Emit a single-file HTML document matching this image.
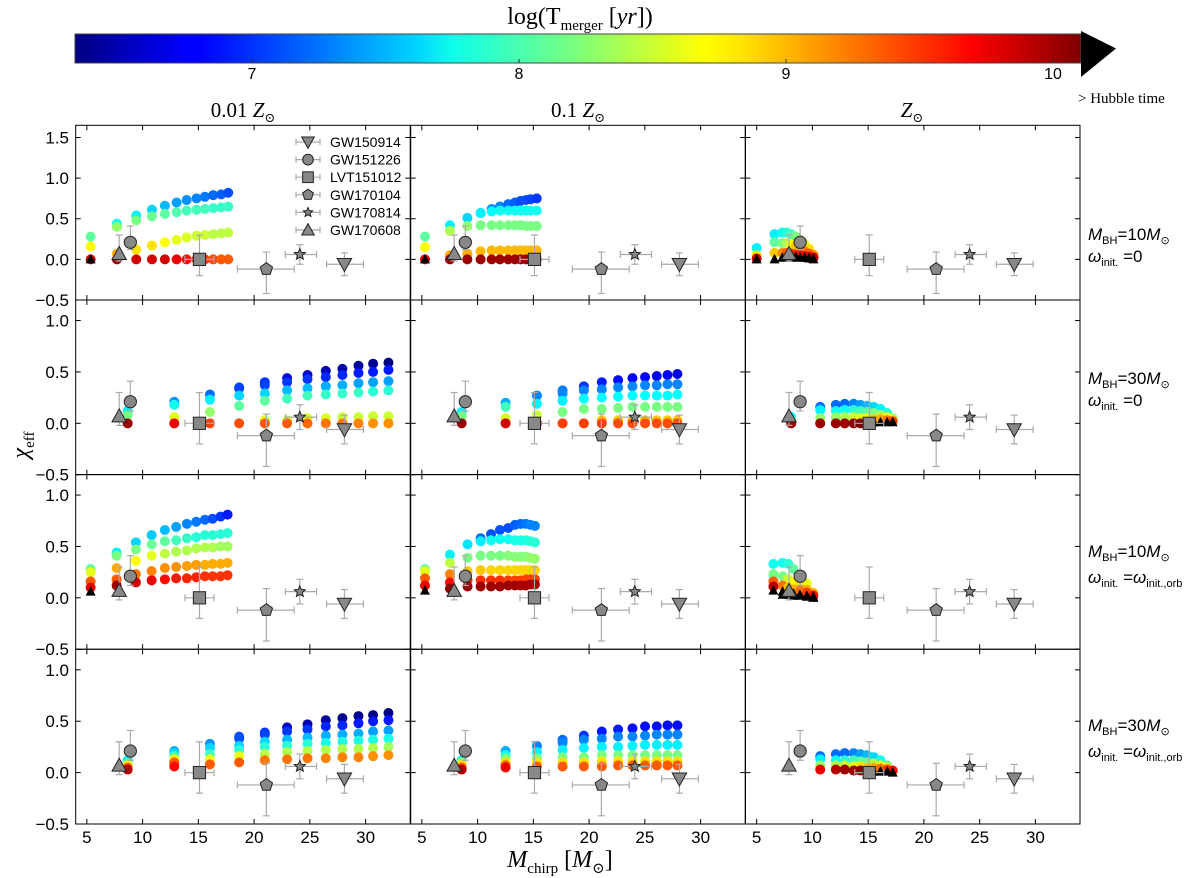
<!DOCTYPE html>
<html><head><meta charset="utf-8"><style>
html,body{margin:0;padding:0;background:#fff;}
svg{display:block;}
text{font-family:"Liberation Sans","DejaVu Sans",sans-serif;}
.serif{font-family:"Liberation Serif","DejaVu Serif",serif;}
</style></head><body>
<svg id="fig" width="1200" height="878" viewBox="0 0 1200 878" xmlns="http://www.w3.org/2000/svg">
<defs>
<linearGradient id="jetgrad" x1="0" x2="1" y1="0" y2="0">
<stop offset="0" stop-color="#000080"/><stop offset="0.11" stop-color="#0000ff"/><stop offset="0.125" stop-color="#0000ff"/>
<stop offset="0.34" stop-color="#00d4ff"/><stop offset="0.375" stop-color="#0dffea"/><stop offset="0.5" stop-color="#7dff7a"/>
<stop offset="0.625" stop-color="#ffff00"/><stop offset="0.66" stop-color="#ffe600"/><stop offset="0.875" stop-color="#ff1300"/>
<stop offset="0.89" stop-color="#ff0000"/><stop offset="1" stop-color="#800000"/>
</linearGradient>
</defs>
<g id="colorbar">
<rect x="75" y="34" width="1006" height="29" fill="url(#jetgrad)" stroke="#444" stroke-width="1"/>
<polygon points="1081,31 1116,48.5 1081,77" fill="#000"/>
<text class="serif" x="580" y="24" font-size="24" text-anchor="middle">log(T<tspan font-size="15" dy="6">merger</tspan><tspan dy="-6"> [</tspan><tspan font-style="italic">yr</tspan>])</text>
<text x="1078" y="103" class="serif" font-size="15" text-anchor="start">&gt; Hubble time</text>
</g>
<g id="cbticks"></g>
<g id="panels"></g>
<text class="serif" x="243" y="117" font-size="21" text-anchor="middle">0.01 <tspan font-style="italic">Z</tspan><tspan font-size="13" dy="5">⊙</tspan></text>
<text class="serif" x="578" y="117" font-size="21" text-anchor="middle">0.1 <tspan font-style="italic">Z</tspan><tspan font-size="13" dy="5">⊙</tspan></text>
<text class="serif" x="912" y="117" font-size="21" text-anchor="middle"><tspan font-style="italic">Z</tspan><tspan font-size="13" dy="5">⊙</tspan></text>
<g class="serif" font-size="17">
<text x="1088" y="240"><tspan font-style="italic">M</tspan><tspan font-size="11" dy="4">BH</tspan><tspan dy="-4">=10</tspan><tspan font-style="italic">M</tspan><tspan font-size="11" dy="4">⊙</tspan><tspan x="1088" dy="18" font-style="italic">ω</tspan><tspan font-size="11" dy="4">init.</tspan><tspan dy="-4"> =0</tspan></text>
<text x="1088" y="384"><tspan font-style="italic">M</tspan><tspan font-size="11" dy="4">BH</tspan><tspan dy="-4">=30</tspan><tspan font-style="italic">M</tspan><tspan font-size="11" dy="4">⊙</tspan><tspan x="1088" dy="18" font-style="italic">ω</tspan><tspan font-size="11" dy="4">init.</tspan><tspan dy="-4"> =0</tspan></text>
<text x="1088" y="557"><tspan font-style="italic">M</tspan><tspan font-size="11" dy="4">BH</tspan><tspan dy="-4">=10</tspan><tspan font-style="italic">M</tspan><tspan font-size="11" dy="4">⊙</tspan><tspan x="1088" dy="22" font-style="italic">ω</tspan><tspan font-size="11" dy="4">init.</tspan><tspan dy="-4"> =</tspan><tspan font-style="italic">ω</tspan><tspan font-size="11" dy="4">init.,orb</tspan></text>
<text x="1088" y="731"><tspan font-style="italic">M</tspan><tspan font-size="11" dy="4">BH</tspan><tspan dy="-4">=30</tspan><tspan font-style="italic">M</tspan><tspan font-size="11" dy="4">⊙</tspan><tspan x="1088" dy="22" font-style="italic">ω</tspan><tspan font-size="11" dy="4">init.</tspan><tspan dy="-4"> =</tspan><tspan font-style="italic">ω</tspan><tspan font-size="11" dy="4">init.,orb</tspan></text>
</g>
<text class="serif" x="0" y="0" font-size="24" text-anchor="middle" transform="translate(28,445) rotate(-90)"><tspan font-style="italic">χ</tspan><tspan font-size="15" dy="6">eff</tspan></text>
<text class="serif" x="560" y="867" font-size="24" text-anchor="middle"><tspan font-style="italic">M</tspan><tspan font-size="15" dy="6">chirp</tspan><tspan dy="-6"> [</tspan><tspan font-style="italic">M</tspan><tspan font-size="15" dy="6">⊙</tspan><tspan dy="-6">]</tspan></text>
</svg>
<script>
const CB_TICKS = [7, 8, 9, 10];
const X_TICKS = [5, 10, 15, 20, 25, 30];
const Y_TICKS_TOP = [-0.5, 0.0, 0.5, 1.0, 1.5];
const Y_TICKS = [-0.5, 0.0, 0.5, 1.0];
const EV_NAMES = ["GW150914","GW151226","LVT151012","GW170104","GW170814","GW170608"];
const EV_X = [28.1, 8.9, 15.1, 21.1, 24.1, 7.9];
const EV_Y = [-0.06, 0.21, 0.0, -0.12, 0.06, 0.07];
const EV_XLO = [1.6, 0.3, 1.3, 2.6, 1.3, 0.2];
const EV_XHI = [1.7, 0.3, 1.3, 2.5, 1.5, 0.2];
const EV_YLO = [0.14, 0.09, 0.20, 0.30, 0.12, 0.09];
const EV_YHI = [0.14, 0.20, 0.30, 0.21, 0.12, 0.23];

const P1_X = [5.34,7.70,9.43,10.84,12.0,13.05,13.95,14.84,15.59,16.33,17.05,17.68];
const P1_Y = [[0.28,0.44,0.54,0.61,0.66,0.70,0.73,0.75,0.77,0.79,0.80,0.82],
 [0.16,0.40,0.48,0.53,0.56,0.58,0.60,0.61,0.62,0.63,0.64,0.65],
 [null,0.07,0.12,0.17,0.21,0.24,0.27,0.29,0.30,0.31,0.32,0.33],
 [0,0,0,0,0,0,0,0,0,0,0,0],[0,null,null,null,null,null,null,null,null,null,null,null]];
const P1_T = [[8.1,7.8,7.7,7.6,7.5,7.4,7.35,7.3,7.25,7.2,7.15,7.1],
 [8.7,8.3,8.2,8.15,8.1,8.05,8.0,8.0,8.0,7.95,7.95,7.95],
 [0,9.0,8.8,8.8,8.7,8.6,8.55,8.5,8.5,8.45,8.45,8.45],
 [9.8,10.0,9.8,9.8,9.8,9.7,9.6,9.5,9.4,9.35,9.3,9.3],[11,0,0,0,0,0,0,0,0,0,0,0]];

const P2_X = [5.28,7.52,9.08,10.27,11.26,12.0,12.75,13.35,13.86,14.33,14.75,15.3];
const P2_Y = [[0.28,0.42,0.51,0.57,0.62,0.65,0.68,0.70,0.72,0.73,0.74,0.75],
 [0.15,0.35,0.41,0.57,0.59,0.60,0.60,0.60,0.60,0.60,0.60,0.60],
 [null,null,null,0.42,0.42,0.42,0.42,0.42,0.42,0.41,0.41,0.41],
 [null,0.05,0.07,0.10,0.11,0.11,0.11,0.11,0.11,0.11,0.11,0.11],
 [0,0,0,0,0,0,0,0,0,0,0,0],[0,null,null,null,null,null,null,null,null,null,null,null]];
const P2_T = [[8.1,7.7,7.6,7.5,7.3,7.3,7.2,7.15,7.1,7.1,7.05,7.0],
 [8.7,8.4,8.3,7.7,7.75,7.8,7.8,7.8,7.8,7.8,7.8,7.8],
 [0,0,0,8.2,8.2,8.2,8.2,8.2,8.2,8.2,8.2,8.2],
 [0,9.0,9.0,8.95,8.95,8.95,8.95,8.95,8.95,8.95,8.95,8.95],
 [9.7,10.0,10.0,10.0,10.0,10.0,10.0,10.0,10.0,10.0,10.0,10.0],[11,0,0,0,0,0,0,0,0,0,0,0]];

const P3_X = [5.0,6.6,7.3,7.7,8.1,8.5,8.9,9.3,9.7,10.1];
const P3_Y = [[0.14,0.31,0.33,0.33,0.31,0.28,0.24,0.19,0.13,0.06],
 [0.05,0.21,0.20,0.20,0.18,0.16,0.13,0.10,0.07,0.03],
 [0.01,0.08,0.08,0.08,0.07,0.06,0.05,0.04,0.03,0.02],
 [0,0,0.02,0.03,0.02,0.03,0.02,0.02,0.01,0.0]];
const P3_T = [[7.7,7.7,7.8,7.9,8.0,8.2,8.4,8.6,8.8,9.0],
 [8.8,8.1,8.2,8.4,8.7,8.9,9.0,9.2,9.3,9.4],
 [9.8,8.9,9.1,9.3,9.4,9.5,9.6,9.7,9.8,9.9],
 [11,11,11,11,11,11,11,11,11,11]];

const P4_X = [8.66,12.84,16.04,18.66,20.96,22.96,24.79,26.43,27.92,29.36,30.67,32.05];
const P4_Y = [[null,null,null,0.35,0.40,0.44,0.47,0.51,0.53,0.56,0.58,0.59],
 [null,0.21,0.28,0.34,0.37,0.40,0.43,0.45,0.47,0.49,0.50,0.52],
 [0.12,0.18,0.23,0.27,0.29,0.32,0.34,0.36,0.37,0.39,0.40,0.41],
 [0.08,0.06,0.11,0.17,0.22,0.24,0.27,0.28,0.29,0.30,0.31,0.32],
 [null,null,null,null,0.03,0.03,0.05,0.05,0.06,0.06,0.07,0.07],
 [0,0,0,0,0,0,0,0,0,0,0,0]];
const P4_T = [[0,0,0,7.1,7.0,6.7,6.6,6.55,6.5,6.45,6.4,6.35],
 [0,7.35,7.2,7.05,7.05,7.0,7.0,6.95,6.95,6.9,6.9,6.9],
 [7.7,7.8,7.7,7.6,7.6,7.5,7.5,7.45,7.45,7.4,7.4,7.4],
 [8.2,8.6,8.3,8.1,8.1,8.0,8.0,7.95,7.95,7.95,7.9,7.9],
 [0,0,0,0,8.6,8.55,8.55,8.55,8.5,8.5,8.5,8.5],
 [10.0,9.7,9.4,9.35,9.3,9.3,9.25,9.2,9.2,9.15,9.1,9.1]];

const P5_X = [8.57,12.51,15.32,17.62,19.53,21.14,22.60,23.89,25.02,26.07,27.03,27.92];
const P5_Y = [[null,null,0.27,0.32,0.36,0.40,0.42,0.44,0.45,0.46,0.47,0.48],
 [null,0.20,null,0.29,0.32,0.33,0.35,0.36,0.37,0.37,0.38,0.38],
 [0.11,0.16,0.19,0.22,0.24,0.25,0.26,0.27,0.27,0.27,0.27,0.28],
 [0.07,0.05,0.08,0.11,0.14,0.14,0.15,0.16,0.16,0.16,0.16,0.16],
 [null,null,null,null,null,0.03,0.03,0.03,0.03,0.03,0.03,0.03],
 [0,0,0,0,0,0,0,0,0,0,0,0]];
const P5_T = [[0,0,7.3,7.25,7.0,6.9,6.85,6.8,6.8,6.75,6.75,6.7],
 [0,7.45,0,7.3,7.3,7.3,7.3,7.3,7.3,7.3,7.3,7.3],
 [7.7,8.0,7.7,7.7,7.75,7.75,7.75,7.75,7.75,7.75,7.75,7.75],
 [8.2,8.55,8.5,8.2,8.2,8.2,8.2,8.2,8.2,8.2,8.2,8.2],
 [0,0,0,0,0,8.9,8.9,8.9,8.9,8.9,8.9,8.9],
 [10.0,9.8,9.7,9.4,9.4,9.4,9.35,9.35,9.35,9.35,9.35,9.35]];

const P6_X = [8.1,10.7,12.1,12.9,13.7,14.3,14.9,15.5,16.1,16.7,17.2];
const P6_Y = [[0.06,0.16,0.18,0.19,0.19,0.18,0.17,0.16,0.14,0.10,0.05],
 [0.03,0.13,0.12,0.13,0.13,0.12,0.11,0.10,0.08,0.06,0.03],
 [0.01,0.05,0.06,0.06,0.06,0.05,0.05,0.04,0.04,0.03,0.02],
 [0,0,0,0,0,0,0,0.01,0.01,0.01,0.01]];
const P6_T = [[7.7,7.2,7.2,7.2,7.3,7.4,7.5,7.6,7.7,7.9,8.3],
 [8.2,7.7,7.8,7.8,7.9,8.0,8.1,8.2,8.4,8.6,8.8],
 [9.5,8.3,8.3,8.4,8.5,8.6,8.7,8.9,9.0,9.2,9.4],
 [10.0,10.0,10.0,10.0,10.05,10.1,11,11,11,11,11]];

const P7_X = [5.34,7.67,9.40,10.81,12.0,13.01,13.97,14.81,15.59,16.28,16.99,17.62];
const P7_Y = [[0.28,0.44,0.54,0.61,0.66,0.69,0.72,0.74,0.76,0.77,0.79,0.81],
 [0.25,0.41,0.47,0.52,0.55,0.56,0.58,0.59,0.61,0.61,0.62,0.63],
 [0.16,0.29,0.36,0.41,0.43,0.45,0.46,0.48,0.49,0.49,0.50,0.50],
 [0.10,0.18,0.23,0.26,0.29,0.30,0.31,0.32,0.32,0.33,0.33,0.34],
 [0.06,0.12,0.15,0.17,0.18,0.19,0.19,0.20,0.21,0.21,0.21,0.22]];
const P7_T = [[8.1,7.7,7.6,7.55,7.5,7.4,7.3,7.25,7.2,7.1,7.0,6.9],
 [8.6,8.2,8.2,8.15,8.1,8.0,7.95,7.9,7.9,7.9,7.9,7.9],
 [9.3,9.0,8.7,8.6,8.45,8.4,8.4,8.4,8.4,8.4,8.35,8.35],
 [9.7,9.3,9.2,9.15,9.1,9.1,9.05,9.05,9.0,9.0,9.0,9.0],
 [11,10.0,9.8,9.7,9.6,9.55,9.5,9.5,9.45,9.45,9.45,9.45]];

const P8_X = [5.28,7.52,9.1,10.27,11.2,12.0,12.75,13.35,13.86,14.33,14.75,15.14];
const P8_Y = [[null,null,null,0.58,0.62,0.66,0.68,0.71,0.72,0.72,0.71,0.70],
 [0.28,0.42,0.52,0.55,0.56,0.57,0.57,0.56,0.56,0.56,0.55,0.54],
 [0.26,0.34,0.39,0.41,0.41,0.41,0.41,0.40,0.40,0.40,0.39,0.38],
 [0.19,0.23,0.26,0.27,0.27,0.27,0.27,0.27,0.27,0.27,0.27,0.27],
 [0.12,0.15,0.17,0.17,0.17,0.17,0.17,0.17,0.17,0.18,0.18,0.18],
 [0.07,0.09,0.11,0.11,0.11,0.11,0.12,0.12,0.12,0.12,0.13,0.13]];
const P8_T = [[0,0,0,7.2,7.1,7.1,7.1,7.15,7.2,7.25,7.3,7.3],
 [8.1,7.7,7.65,7.7,7.8,7.8,7.8,7.85,7.85,7.85,7.9,7.9],
 [8.6,8.45,8.2,8.2,8.2,8.2,8.25,8.25,8.25,8.25,8.3,8.3],
 [9.3,9.15,8.9,8.9,8.85,8.85,8.85,8.85,8.85,8.85,8.85,8.85],
 [9.7,9.6,9.45,9.45,9.45,9.45,9.4,9.4,9.4,9.4,9.4,9.4],
 [11,10.05,10.0,10.0,10.0,10.0,10.0,10.0,9.95,9.95,9.95,9.95]];

const P9_X = [6.5,7.33,7.84,8.3,8.88,9.5,10.08];
const P9_Y = [[0.33,0.34,0.33,0.28,0.22,0.14,0.05],
 [0.23,0.21,0.18,0.15,0.12,0.08,0.03],
 [0.16,0.12,0.10,0.08,0.07,0.05,0.02],
 [0.11,0.06,0.05,0.04,0.03,0.02,0.01],
 [0.07,0.03,0.03,0.02,0.02,0.01,0.0]];
const P9_T = [[7.8,7.8,7.9,8.1,8.3,8.6,8.9],
 [8.2,8.2,8.5,8.7,8.8,9.0,9.2],
 [9.3,9.2,8.9,9.0,9.2,9.4,9.6],
 [9.9,11,11,11,11,11,11],
 [11,11,11,11,11,11,11]];

const P10_X = [8.66,12.84,16.04,18.66,20.96,22.96,24.79,26.43,27.92,29.36,30.67,32.05];
const P10_Y = [[null,null,null,0.35,0.39,0.44,0.47,0.51,0.53,0.55,0.56,0.58],
 [null,0.21,0.28,0.33,0.37,0.40,0.42,0.45,0.46,0.48,0.50,0.51],
 [0.12,0.19,0.24,0.26,0.30,0.32,0.34,0.36,0.37,0.38,0.40,0.41],
 [0.09,0.16,0.18,0.22,0.25,0.26,0.28,0.29,0.30,0.31,0.32,0.33],
 [0.07,0.13,0.13,0.16,0.18,0.20,0.21,0.22,0.23,0.23,0.24,0.25],
 [0.05,0.10,0.08,0.10,0.12,0.13,0.14,0.14,0.15,0.15,0.16,0.17],
 [0.03,0.06,null,null,null,null,null,null,null,null,null,null]];
const P10_T = [[0,0,0,7.1,7.0,6.6,6.5,6.45,6.4,6.4,6.35,6.35],
 [0,7.45,7.35,7.1,7.05,7.0,7.0,6.95,6.95,6.9,6.9,6.9],
 [7.7,7.6,7.6,7.6,7.6,7.5,7.5,7.45,7.45,7.45,7.4,7.4],
 [8.1,8.0,8.0,7.9,7.9,7.9,7.9,7.85,7.85,7.85,7.85,7.85],
 [8.7,8.7,8.6,8.6,8.45,8.4,8.4,8.4,8.4,8.4,8.4,8.35],
 [9.3,9.3,9.3,9.3,9.2,9.2,9.2,9.15,9.15,9.15,9.1,9.1],
 [9.9,9.6,0,0,0,0,0,0,0,0,0,0]];

const P11_X = [8.57,12.51,15.32,17.62,19.53,21.14,22.60,23.89,25.02,26.07,27.03,27.92];
const P11_Y = [[null,null,0.26,0.32,0.36,0.40,0.42,0.43,0.45,0.45,0.46,0.46],
 [null,0.21,null,0.29,0.32,0.33,0.35,0.35,0.36,0.37,0.37,0.37],
 [0.12,0.17,0.20,0.22,0.24,0.25,0.25,0.26,0.27,0.27,0.27,0.27],
 [0.10,0.14,0.14,0.15,0.15,0.17,0.17,0.17,0.17,0.17,0.17,0.17],
 [0.08,0.10,0.10,0.10,0.10,0.11,0.11,0.11,0.11,0.11,0.11,0.11],
 [0.05,0.07,0.06,0.06,0.06,0.06,0.07,0.07,0.07,0.07,0.07,0.07],
 [0.03,0.05,null,null,null,null,null,null,null,null,null,null]];
const P11_T = [[0,0,7.3,7.2,7.0,6.9,6.9,6.85,6.85,6.85,6.85,6.85],
 [0,7.45,0,7.3,7.3,7.3,7.3,7.3,7.3,7.3,7.3,7.3],
 [7.7,7.8,7.7,7.7,7.7,7.7,7.7,7.7,7.7,7.7,7.7,7.7],
 [8.2,8.2,8.2,8.2,8.2,8.2,8.2,8.2,8.2,8.2,8.2,8.2],
 [8.8,8.8,8.8,8.8,8.8,8.8,8.8,8.8,8.8,8.8,8.8,8.8],
 [9.3,9.3,9.3,9.3,9.3,9.3,9.3,9.3,9.3,9.3,9.3,9.3],
 [9.9,9.7,0,0,0,0,0,0,0,0,0,0]];

const P12_X = [10.7,12.1,12.9,13.7,14.3,14.9,15.5,16.1,16.7,17.2];
const P12_Y = [[0.16,0.18,0.19,0.19,0.18,0.17,0.15,0.12,0.07,0.02],
 [0.13,0.12,0.12,0.12,0.11,0.10,0.09,0.07,0.05,0.02],
 [0.07,0.07,0.07,0.06,0.06,0.05,0.05,0.04,0.03,0.02],
 [0.03,0.03,0.03,0.02,0.02,0.02,0.01,0.01,0.01,0.0]];
const P12_T = [[7.2,7.2,7.2,7.3,7.4,7.5,7.6,7.8,8.1,8.5],
 [7.7,7.8,7.9,8.0,8.1,8.2,8.4,8.6,8.8,9.0],
 [8.3,8.4,8.5,8.6,8.8,8.9,9.0,9.2,9.4,9.6],
 [9.7,9.9,10.0,10.0,10.05,11,11,11,11,11]];

const NS = "http://www.w3.org/2000/svg";
const T_MIN = 6.337, T_MAX = 10.105;
const CB_X0 = 75, CB_W = 1006;
const COL_X = [75.7, 410.7, 745.5], COL_W = 334.5;
const ROW_Y = [125.3, 300, 474.5, 649.3], ROW_H = 174.7;
const X_MIN = 4, X_MAX = 34;

function el(tag, attrs, parent) {
  const e = document.createElementNS(NS, tag);
  for (const k in attrs) e.setAttribute(k, attrs[k]);
  parent.appendChild(e);
  return e;
}
function clip(v){return Math.max(0, Math.min(1, v));}
function jet(t) {
  const f = (t - T_MIN) / (T_MAX - T_MIN);
  const r = clip(1.5 - Math.abs(4*f - 3)), g = clip(1.5 - Math.abs(4*f - 2)), b = clip(1.5 - Math.abs(4*f - 1));
  return "rgb(" + Math.round(r*255) + "," + Math.round(g*255) + "," + Math.round(b*255) + ")";
}

const cbg = document.getElementById("cbticks");
CB_TICKS.forEach(function(v) {
  const x = CB_X0 + (v - T_MIN) / (T_MAX - T_MIN) * CB_W;
  const tk = el("line", {x1:x, x2:x, y1:59, y2:63, stroke:"#333", "stroke-width":1}, cbg);
  
  
  const lb = el("text", {x:x, y:79, "font-size":16, "text-anchor":"middle"}, cbg);
  lb.textContent = String(v);
  
  
});

const PANELS = [[P1_X,P1_Y,P1_T],[P2_X,P2_Y,P2_T],[P3_X,P3_Y,P3_T],
  [P4_X,P4_Y,P4_T],[P5_X,P5_Y,P5_T],[P6_X,P6_Y,P6_T],
  [P7_X,P7_Y,P7_T],[P8_X,P8_Y,P8_T],[P9_X,P9_Y,P9_T],
  [P10_X,P10_Y,P10_T],[P11_X,P11_Y,P11_T],[P12_X,P12_Y,P12_T]];

function markerShape(kind, cx, cy, s, parent, fill, stroke) {
  let e;
  if (kind === 0) e = el("polygon", {points:(cx-s)+","+(cy-s*0.8)+" "+(cx+s)+","+(cy-s*0.8)+" "+cx+","+(cy+s)}, parent);
  else if (kind === 1) e = el("circle", {cx:cx, cy:cy, r:s*0.85}, parent);
  else if (kind === 2) e = el("rect", {x:cx-s*0.85, y:cy-s*0.85, width:s*1.7, height:s*1.7}, parent);
  else if (kind === 3 || kind === 4) {
    const pts = [];
    const steps = kind === 3 ? 5 : 10;
    for (let i = 0; i < steps; i++) {
      const a = -Math.PI/2 + i * 2*Math.PI/steps;
      const rr = kind === 3 ? s*0.9 : (i % 2 === 0 ? s*0.9 : s*0.4);
      pts.push((cx + rr*Math.cos(a)).toFixed(1) + "," + (cy + rr*Math.sin(a)).toFixed(1));
    }
    e = el("polygon", {points:pts.join(" ")}, parent);
  } else e = el("polygon", {points:(cx-s)+","+(cy+s*0.8)+" "+(cx+s)+","+(cy+s*0.8)+" "+cx+","+(cy-s)}, parent);
  e.setAttribute("fill", fill); e.setAttribute("stroke", stroke); e.setAttribute("stroke-width", 1);
  return e;
}

const pg = document.getElementById("panels");
for (let r = 0; r < 4; r++) {
  for (let c = 0; c < 3; c++) {
    const idx = r*3 + c;
    const x0 = COL_X[c], y0 = ROW_Y[r];
    const yMin = -0.5, yMax = r === 0 ? 1.65 : 1.2;
    const sx = function(v){ return x0 + (v - X_MIN) / (X_MAX - X_MIN) * COL_W; };
    const sy = function(v){ return y0 + ROW_H - (v - yMin) / (yMax - yMin) * ROW_H; };
    const g = el("g", {}, pg);
    
    
    X_TICKS.forEach(function(v) {
      const x = sx(v);
      const t1 = el("line", {x1:x,x2:x,y1:y0+ROW_H,y2:y0+ROW_H-5,stroke:"#000","stroke-width":1}, g);
      
      
      const t2 = el("line", {x1:x,x2:x,y1:y0,y2:y0+5,stroke:"#000","stroke-width":1}, g);
      
      
      if (r === 3) {
        const lb = el("text", {x:x, y:843, "font-size":17, "text-anchor":"middle"}, g);
        lb.textContent = String(v);
        
        
      }
    });
    const yt = r === 0 ? Y_TICKS_TOP : Y_TICKS;
    yt.forEach(function(v) {
      const y = sy(v);
      const t1 = el("line", {x1:x0,x2:x0+5,y1:y,y2:y,stroke:"#000","stroke-width":1}, g);
      
      
      const t2 = el("line", {x1:x0+COL_W,x2:x0+COL_W-5,y1:y,y2:y,stroke:"#000","stroke-width":1}, g);
      
      
      if (c === 0) {
        const lb = el("text", {x:69, y:y+6, "font-size":17, "text-anchor":"end"}, g);
        lb.textContent = (v < 0 ? "\u2212" : "") + Math.abs(v).toFixed(1);
        
        
      }
    });
    const P = PANELS[idx];
    const xs = P[0], ys = P[1], ts = P[2];
    for (let s = 0; s < ys.length; s++) {
      for (let i = 0; i < xs.length; i++) {
        const yv = ys[s][i];
        if (yv === null || yv === undefined) continue;
        const t = ts[s][i];
        const cx = sx(xs[i]), cy = sy(yv);
        let m;
        if (t > T_MAX) {
          m = el("polygon", {points:(cx-5)+","+(cy+4)+" "+(cx+5)+","+(cy+4)+" "+cx+","+(cy-5.5), fill:"#000"}, g);
          
        } else {
          m = el("circle", {cx:cx, cy:cy, r:5, fill:jet(t)}, g);
          
        }
        
      }
    }
    for (let k = 0; k < EV_X.length; k++) {
      const ex = sx(EV_X[k]), ey = sy(EV_Y[k]);
      const eg = el("g", {stroke:"#aaa", "stroke-width":1.2}, g);
      
      
      const xl = sx(EV_X[k]-EV_XLO[k]), xh = sx(EV_X[k]+EV_XHI[k]);
      const yl = sy(EV_Y[k]-EV_YLO[k]), yh = sy(EV_Y[k]+EV_YHI[k]);
      el("line", {x1:xl,x2:xh,y1:ey,y2:ey}, eg);
      el("line", {x1:ex,x2:ex,y1:yl,y2:yh}, eg);
      el("line", {x1:xl,x2:xl,y1:ey-3.5,y2:ey+3.5}, eg);
      el("line", {x1:xh,x2:xh,y1:ey-3.5,y2:ey+3.5}, eg);
      el("line", {x1:ex-3.5,x2:ex+3.5,y1:yl,y2:yl}, eg);
      el("line", {x1:ex-3.5,x2:ex+3.5,y1:yh,y2:yh}, eg);
      markerShape(k, ex, ey, k === 4 ? 6.5 : 7.2, eg, "#888", "#222");
    }
    const fr = el("rect", {x:x0, y:y0, width:COL_W, height:ROW_H, fill:"none", stroke:"#000", "stroke-width":1}, g);
    
    
  }
}

const lg = el("g", {}, pg);


for (let k = 0; k < EV_NAMES.length; k++) {
  const y = 142 + k*17.6;
  const eg = el("g", {stroke:"#aaa", "stroke-width":1.2}, lg);
  
  
  el("line", {x1:296, x2:320, y1:y, y2:y}, eg);
  el("line", {x1:296, x2:296, y1:y-3, y2:y+3}, eg);
  el("line", {x1:320, x2:320, y1:y-3, y2:y+3}, eg);
  el("line", {x1:308, x2:308, y1:y-4, y2:y+4}, eg);
  markerShape(k, 308, y, k === 4 ? 5.5 : 6.3, eg, "#888", "#222");
  const t = el("text", {x:330, y:y+5, "font-size":14}, lg);
  t.textContent = EV_NAMES[k];
  
  
}
</script>
</body></html>
